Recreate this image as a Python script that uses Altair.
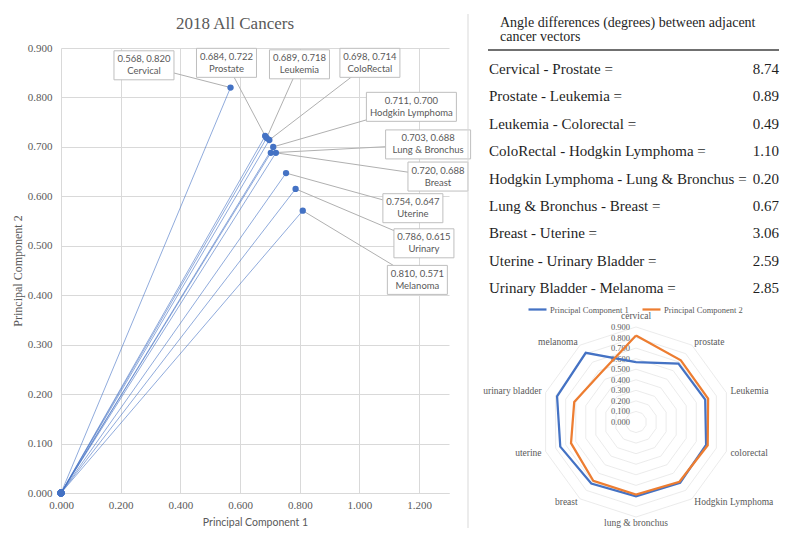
import math
import altair as alt
import pandas as pd

# ---------------- data ----------------
cancers = ["Cervical", "Prostate", "Leukemia", "ColoRectal", "Hodgkin Lymphoma",
           "Lung & Bronchus", "Breast", "Uterine", "Urinary", "Melanoma"]
pc1 = [0.568, 0.684, 0.689, 0.698, 0.711, 0.703, 0.720, 0.754, 0.786, 0.810]
pc2 = [0.820, 0.722, 0.718, 0.714, 0.700, 0.688, 0.688, 0.647, 0.615, 0.571]

radar_cats = ["cervical", "prostate", "Leukemia", "colorectal", "Hodgkin Lymphoma",
              "lung & bronchus", "breast", "uterine", "urinary bladder", "melanoma"]
series = ["Principal Component 1", "Principal Component 2"]

pairs = ["Cervical - Prostate =", "Prostate - Leukemia =", "Leukemia - Colorectal =",
         "ColoRectal - Hodgkin Lymphoma =", "Hodgkin Lymphoma - Lung & Bronchus =",
         "Lung & Bronchus - Breast =", "Breast - Uterine =",
         "Uterine - Urinary Bladder =", "Urinary Bladder - Melanoma ="]
angle_diff = [8.74, 0.89, 0.49, 1.10, 0.20, 0.67, 3.06, 2.59, 2.85]

x_ticks = [0.0, 0.2, 0.4, 0.6, 0.8, 1.0, 1.2]
y_ticks = [0.0, 0.1, 0.2, 0.3, 0.4, 0.5, 0.6, 0.7, 0.8, 0.9]
radar_ticks = [0.0, 0.1, 0.2, 0.3, 0.4, 0.5, 0.6, 0.7, 0.8, 0.9]
ring_levels = [0.1, 0.2, 0.3, 0.4, 0.5, 0.6, 0.7, 0.8, 0.9]

# hand-placed data-label callouts of the original (box centres, data units)
callout_x = [0.278, 0.5545, 0.799, 1.035, 1.174, 1.230, 1.263, 1.179, 1.216, 1.194]
callout_y = [0.865, 0.870, 0.867, 0.870, 0.781, 0.705, 0.640, 0.576, 0.505, 0.431]

# ---------------- layout ----------------
W, H = 388, 445
XMAX, YMAX = 1.3, 0.9
PX, PY = W / XMAX, H / YMAX
OX, OY = 61, 47                  # page position of the scatter plot area
RCX, RCY, RK = 636, 421, 105.6   # radar centre (page px) and px per unit
TAB_L, TAB_R = 489, 779          # table column edges (page px)

SERIF = "Liberation Serif"
SANS = "Lato"
GREY = "#595959"
INK = "#1f1f1f"

# ---------------- scatter ----------------
sc = pd.DataFrame({"name": cancers, "pc1": pc1, "pc2": pc2,
                   "lx": callout_x, "ly": callout_y})
sc["coords"] = [f"{a:.3f}, {b:.3f}" for a, b in zip(pc1, pc2)]
sc["zero"] = 0.0
bw = [max(60.0, 5.0 * len(n) + 10) for n in cancers]
bh = 29.0
sc["bx1"] = [x - w / 2 / PX for x, w in zip(callout_x, bw)]
sc["bx2"] = [x + w / 2 / PX for x, w in zip(callout_x, bw)]
sc["by1"] = [y - bh / 2 / PY for y in callout_y]
sc["by2"] = [y + bh / 2 / PY for y in callout_y]

xs = alt.Scale(domain=[0, XMAX], nice=False, zero=False)
ys = alt.Scale(domain=[0, YMAX], nice=False, zero=False)
XAX = alt.Axis(values=x_ticks, format=".3f", grid=True, gridColor="#d9d9d9",
               domainColor="#d9d9d9", ticks=False, labelFont=SERIF, labelFontSize=11,
               labelColor=GREY, labelPadding=6, labelFlush=False,
               title="Principal Component 1", titleFont=SANS, titleFontSize=10.5,
               titleColor=GREY, titleFontWeight="normal", titlePadding=7.5)
YAX = alt.Axis(values=y_ticks, format=".3f", grid=True, gridColor="#d9d9d9",
               domain=False, ticks=False, labelFont=SERIF, labelFontSize=11,
               labelColor=GREY, labelPadding=9, labelFlush=False,
               title="Principal Component 2", titleFont=SERIF, titleFontSize=12,
               titleColor=GREY, titleFontWeight="normal", titlePadding=2.5)


def X(f):
    return alt.X(f, type="quantitative", scale=xs, axis=XAX)


def Y(f):
    return alt.Y(f, type="quantitative", scale=ys, axis=YAX)


base = alt.Chart(sc)
vectors = base.mark_rule(color="#4472C4", strokeWidth=0.8, opacity=0.75).encode(
    x=X("zero"), y=Y("zero"), x2="pc1", y2="pc2")
leaders = base.mark_rule(color="#b0b0b0", strokeWidth=1).encode(
    x=X("lx"), y=Y("ly"), x2="pc1", y2="pc2")
points = base.mark_circle(size=40, color="#4472C4", opacity=1).encode(
    x=X("pc1"), y=Y("pc2"))
origin = base.mark_circle(size=48, color="#4472C4", opacity=1).encode(
    x=X("zero"), y=Y("zero"))
boxes = base.mark_rect(fill="white", stroke="#bfbfbf", strokeWidth=1).encode(
    x=X("bx1"), x2="bx2", y=Y("by1"), y2="by2")
lkw = dict(font=SANS, fontSize=9.5, color=GREY, baseline="middle", align="center")
btext1 = base.mark_text(dy=-6, **lkw).encode(x=X("lx"), y=Y("ly"), text="coords:N")
btext2 = base.mark_text(dy=6, **lkw).encode(x=X("lx"), y=Y("ly"), text="name:N")

deco = pd.DataFrame({"t": ["2018 All Cancers"]})
title = alt.Chart(deco).mark_text(font=SERIF, fontSize=17, color=GREY,
                                  baseline="middle", align="center").encode(
    x=alt.value(235 - OX), y=alt.value(23 - OY), text="t:N")
frame_r = alt.Chart(deco).mark_rule(color="#d9d9d9").encode(
    x=alt.value(468 - OX), y=alt.value(13 - OY), y2=alt.value(527 - OY))

scatter = alt.layer(vectors, leaders, points, origin, boxes, btext1, btext2,
                    title, frame_r)

# ---------------- radar ----------------
rrows = []
for s, vals in zip(series, [pc1, pc2]):
    for k in range(11):
        i = k % 10
        rrows.append({"series": s, "cat": radar_cats[i], "idx": i, "ord": k, "r": vals[i]})
rd = pd.DataFrame(rrows)

ringrows = []
for lv in ring_levels:
    for k in range(11):
        ringrows.append({"lvl": lv, "idx": k % 10, "ord": k, "r": lv})
rg = pd.DataFrame(ringrows)

cats = pd.DataFrame({"cat": radar_cats, "idx": list(range(10))})
tick_df = pd.DataFrame({"v": radar_ticks, "zero": [0.0] * len(radar_ticks)})

rx0 = (OX - RCX) / RK
rx1 = rx0 + W / RK
ry0 = -(OY + H - RCY) / RK
ry1 = ry0 + H / RK
rxs = alt.Scale(domain=[rx0, rx1], nice=False, zero=False)
rys = alt.Scale(domain=[ry0, ry1], nice=False, zero=False)


def RX(f):
    return alt.X(f, type="quantitative", scale=rxs, axis=None)


def RY(f):
    return alt.Y(f, type="quantitative", scale=rys, axis=None)


polar = dict(theta="datum.idx * 2 * PI / 10")

rings = alt.Chart(rg).transform_calculate(**polar).transform_calculate(
    px="datum.r * sin(datum.theta)", py="datum.r * cos(datum.theta)"
).mark_line(color="#e6e6e6", strokeWidth=0.8).encode(
    x=RX("px"), y=RY("py"), detail="lvl:N", order="ord:Q")

rlines = alt.Chart(rd).transform_calculate(**polar).transform_calculate(
    px="datum.r * sin(datum.theta)", py="datum.r * cos(datum.theta)"
).mark_line(strokeWidth=2.25).encode(
    x=RX("px"), y=RY("py"), order="ord:Q",
    color=alt.Color("series:N",
                    scale=alt.Scale(domain=series, range=["#4472C4", "#ED7D31"]),
                    legend=alt.Legend(title=None, orient="none", direction="horizontal",
                                      legendX=527 - OX, legendY=298 - OY,
                                      symbolType="stroke", symbolSize=324,
                                      symbolStrokeWidth=2.25, labelOffset=2,
                                      columnPadding=9, labelFont=SERIF,
                                      labelFontSize=8.5, labelColor=GREY)))

rticks = alt.Chart(tick_df).mark_text(font=SERIF, fontSize=8.5, color=GREY,
                                      align="right", baseline="middle", dx=-6).encode(
    x=RX("zero"), y=RY("v"), text=alt.Text("v:Q", format=".3f"))

catbase = alt.Chart(cats).transform_calculate(**polar).transform_calculate(
    side="abs(sin(datum.theta)) < 0.01 ? (cos(datum.theta) > 0 ? 'top' : 'bottom') : (sin(datum.theta) > 0 ? 'left' : 'right')"
).transform_calculate(
    rr="datum.side == 'top' ? 0.956 : (datum.side == 'bottom' ? 0.91 : 0.94)"
).transform_calculate(
    px="datum.rr * sin(datum.theta)", py="datum.rr * cos(datum.theta)")
catkw = dict(font=SERIF, fontSize=9.5, color=GREY)
cat_l = catbase.transform_filter("datum.side == 'left'").mark_text(
    align="left", baseline="middle", **catkw).encode(x=RX("px"), y=RY("py"), text="cat:N")
cat_r = catbase.transform_filter("datum.side == 'right'").mark_text(
    align="right", baseline="middle", **catkw).encode(x=RX("px"), y=RY("py"), text="cat:N")
cat_t = catbase.transform_filter("datum.side == 'top'").mark_text(
    align="center", baseline="bottom", **catkw).encode(x=RX("px"), y=RY("py"), text="cat:N")
cat_b = catbase.transform_filter("datum.side == 'bottom'").mark_text(
    align="center", baseline="top", **catkw).encode(x=RX("px"), y=RY("py"), text="cat:N")

radar = alt.layer(rings, rticks, rlines, cat_l, cat_r, cat_t, cat_b)

# ---------------- table ----------------
tb = pd.DataFrame({"pair": pairs, "deg": angle_diff, "row": [-i for i in range(len(pairs))]})
ROW0, ROWSTEP = 68, 27.4
ty0 = -(OY + H - ROW0) / ROWSTEP
ty1 = ty0 + H / ROWSTEP
tys = alt.Scale(domain=[ty0, ty1], nice=False, zero=False)
tkw = dict(font=SERIF, fontSize=15, color=INK, baseline="middle")
trow_l = alt.Chart(tb).mark_text(align="left", **tkw).encode(
    x=alt.value(TAB_L - OX), y=alt.Y("row:Q", scale=tys, axis=None), text="pair:N")
trow_r = alt.Chart(tb).mark_text(align="right", **tkw).encode(
    x=alt.value(TAB_R - OX), y=alt.Y("row:Q", scale=tys, axis=None),
    text=alt.Text("deg:Q", format=".2f"))
head1 = pd.DataFrame({"t": ["Angle differences (degrees) between adjacent"]})
head2 = pd.DataFrame({"t": ["cancer vectors"]})
hkw = dict(font=SERIF, fontSize=14, color=INK, align="left", baseline="middle")
thead1 = alt.Chart(head1).mark_text(**hkw).encode(
    x=alt.value(500 - OX), y=alt.value(22 - OY), text="t:N")
thead2 = alt.Chart(head2).mark_text(**hkw).encode(
    x=alt.value(500 - OX), y=alt.value(36 - OY), text="t:N")
trule = alt.Chart(head1).mark_rule(color="#404040", strokeWidth=1.5).encode(
    x=alt.value(488 - OX), x2=alt.value(TAB_R - OX), y=alt.value(49 - OY))

table = alt.layer(trow_l, trow_r, thead1, thead2, trule)

chart = alt.layer(scatter, radar, table).resolve_scale(
    x="independent", y="independent"
).resolve_axis(x="independent", y="independent").properties(
    width=W, height=H,
    padding={"left": 3, "top": 5, "right": 0, "bottom": 0},
    background="white",
).configure_view(stroke=None)

chart.save("out.html", embed_options={"renderer": "svg", "actions": False})
